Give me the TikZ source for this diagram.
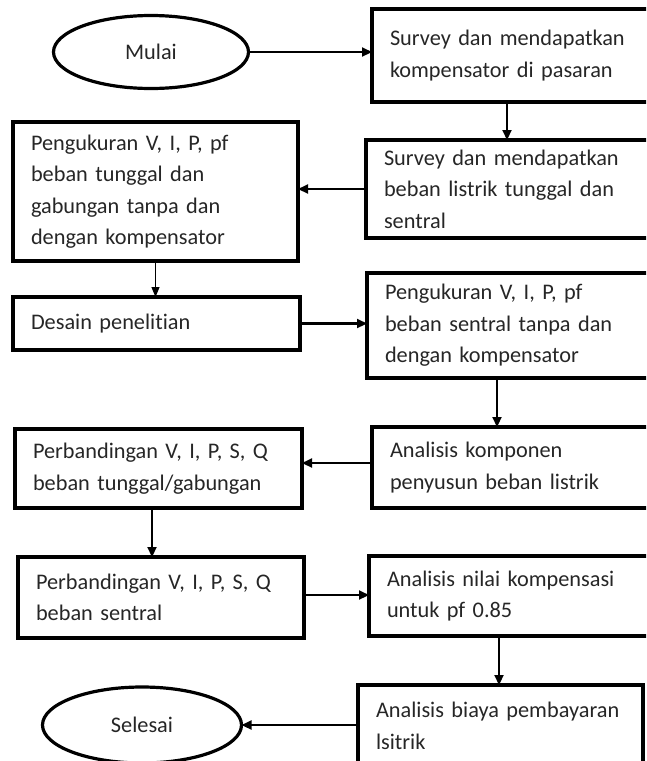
\documentclass[tikz,border=0pt]{standalone}
\usepackage{fontspec}
\setmainfont{Carlito}[Ligatures=NoCommon]
\usetikzlibrary{arrows.meta,shapes.geometric}
\begin{document}
\begin{tikzpicture}[x=1pt,y=-1pt,
  box/.style={draw, line width=3.4pt, rectangle, anchor=north west, align=left,
    inner xsep=18pt, inner ysep=0pt, outer sep=0pt, text=black!85,
    font=\fontsize{22.3}{31.5}\selectfont},
  term/.style={draw, ellipse, line width=3.2pt, inner sep=0pt, outer sep=0pt,
    text=black!85, font=\fontsize{22.3}{31.5}\selectfont},
  arr/.style={line width=2.2pt, -{Triangle[length=10pt,width=9pt]}},
  thinarr/.style={line width=1.1pt, -{Triangle[length=10pt,width=8pt]}},
]
\useasboundingbox (0,0) rectangle (646,761);
\clip (0,0) rectangle (646,761);

\node[term, minimum width=195pt, minimum height=73pt] (M) at (151,52) {Mulai};
\node[box, minimum width=280pt, minimum height=93pt, text width=244pt] (A) at (372,9)
  {Survey dan mendapatkan\\kompensator di pasaran};
\node[box, minimum width=286pt, minimum height=98pt, text width=250pt] (B) at (366,140)
  {Survey dan mendapatkan\\beban listrik tunggal dan\\sentral};
\node[box, minimum width=285pt, minimum height=139pt, text width=249pt] (C) at (13,122)
  {Pengukuran V, I, P, pf\\beban tunggal dan\\gabungan tanpa dan\\dengan kompensator};
\node[box, minimum width=287pt, minimum height=53pt, text width=251pt] (D) at (13,297)
  {Desain penelitian};
\node[box, minimum width=285pt, minimum height=105pt, text width=249pt] (E) at (367,273)
  {Pengukuran V, I, P, pf\\beban sentral tanpa dan\\dengan kompensator};
\node[box, minimum width=280pt, minimum height=81pt, text width=244pt] (F) at (372,427)
  {Analisis komponen\\penyusun beban listrik};
\node[box, minimum width=287pt, minimum height=79pt, text width=251pt] (G) at (15,429)
  {Perbandingan V, I, P, S, Q\\beban tunggal/gabungan};
\node[box, minimum width=286pt, minimum height=81pt, text width=250pt] (H) at (18,557)
  {Perbandingan V, I, P, S, Q\\beban sentral};
\node[box, minimum width=283pt, minimum height=80pt, text width=247pt] (I) at (369,556)
  {Analisis nilai kompensasi\\untuk pf 0.85};
\node[box, minimum width=285pt, minimum height=82pt, text width=249pt] (J) at (358,685)
  {Analisis biaya pembayaran\\lsitrik};
\node[term, minimum width=199pt, minimum height=76pt] (S) at (142,725) {Selesai};

\coordinate (a1) at ([xshift=135pt]A.south west);
\coordinate (e1) at ([xshift=130pt]E.south west);
\coordinate (f1) at ([yshift=4.5pt]F.west);
\coordinate (g1) at ([xshift=137pt]G.south west);
\coordinate (h1) at ([yshift=2.5pt]H.east);
\coordinate (i1) at ([xshift=130pt]I.south west);

\draw[arr] (M.east) -- (M.east -| A.west);
\draw[arr] (a1) -- (a1 |- B.north);
\draw[arr] (B.west) -- (B.west -| C.east);
\draw[thinarr] (C.south) -- (C.south |- D.north);
\draw[arr] (D.east) -- (D.east -| E.west);
\draw[arr] (e1) -- (e1 |- F.north);
\draw[arr] (f1) -- (f1 -| G.east);
\draw[arr] (g1) -- (g1 |- H.north);
\draw[arr] (h1) -- (h1 -| I.west);
\draw[arr] (i1) -- (i1 |- J.north);
\draw[arr] (S.east -| J.west) -- (S.east);
\end{tikzpicture}
\end{document}
